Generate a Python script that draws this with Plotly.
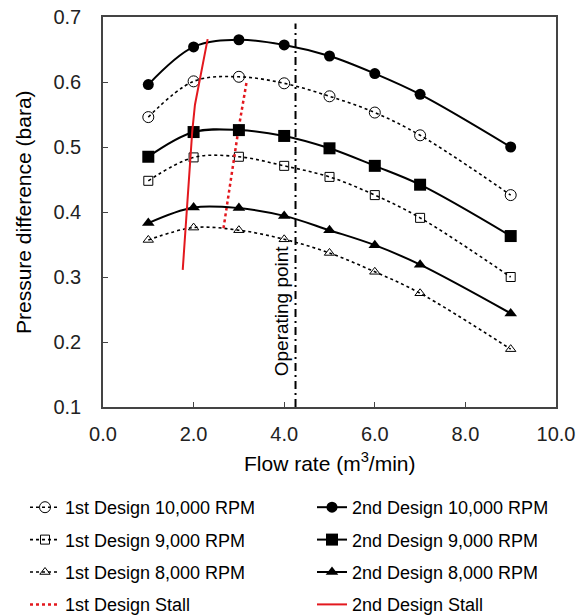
import plotly.graph_objects as go

# ---- data ----
flow = [1, 2, 3, 4, 5, 6, 7, 9]

d1_10000 = [0.546, 0.601, 0.608, 0.598, 0.578, 0.553, 0.518, 0.426]
d2_10000 = [0.596, 0.654, 0.665, 0.657, 0.640, 0.613, 0.581, 0.500]
d1_9000 = [0.448, 0.484, 0.485, 0.471, 0.454, 0.426, 0.391, 0.300]
d2_9000 = [0.485, 0.523, 0.526, 0.517, 0.498, 0.471, 0.442, 0.363]
d1_8000 = [0.357, 0.376, 0.372, 0.358, 0.337, 0.308, 0.275, 0.189]
d2_8000 = [0.383, 0.407, 0.406, 0.394, 0.372, 0.349, 0.319, 0.244]

stall1_x = [2.66, 2.99, 3.17]
stall1_y = [0.375, 0.527, 0.600]
stall2_x = [1.76, 1.97, 2.03, 2.13, 2.31]
stall2_y = [0.311, 0.524, 0.565, 0.600, 0.666]

operating_x = [4.25, 4.25]
operating_y = [0.10, 0.69]

x_ticks = [0, 2, 4, 6, 8, 10]
y_ticks = [0.1, 0.2, 0.3, 0.4, 0.5, 0.6, 0.7]

FONT = "Liberation Sans, Arial, sans-serif"
RED = "#e3181e"

# the page has an 8px body margin: figure is sized to fill the rest
W, H = 577, 608

fig = go.Figure()

def first(name, y, symbol, size, legend):
    fig.add_trace(go.Scatter(
        x=flow, y=y, name=name, mode="lines+markers",
        line=dict(color="black", width=1.6, dash="dot", shape="spline"),
        marker=dict(symbol=symbol, size=size, color="black",
                    line=dict(color="black", width=1)),
        legend=legend, legendgroup=name))

def second(name, y, symbol, size, legend):
    fig.add_trace(go.Scatter(
        x=flow, y=y, name=name, mode="lines+markers",
        line=dict(color="black", width=2, shape="spline"),
        marker=dict(symbol=symbol, size=size, color="black"),
        legend=legend, legendgroup=name))

first("1st Design 10,000 RPM", d1_10000, "circle-open", 11, "legend")
first("1st Design 9,000 RPM", d1_9000, "square-open", 9, "legend")
first("1st Design 8,000 RPM", d1_8000, "triangle-up-open", 9, "legend")
fig.add_trace(go.Scatter(x=stall1_x, y=stall1_y, name="1st Design Stall",
                         mode="lines", line=dict(color=RED, width=2.5, dash="dot"),
                         legend="legend", legendgroup="s1"))

second("2nd Design 10,000 RPM", d2_10000, "circle", 11, "legend2")
second("2nd Design 9,000 RPM", d2_9000, "square", 12, "legend2")
second("2nd Design 8,000 RPM", d2_8000, "triangle-up", 11, "legend2")
fig.add_trace(go.Scatter(x=stall2_x, y=stall2_y, name="2nd Design Stall",
                         mode="lines", line=dict(color=RED, width=2),
                         legend="legend2", legendgroup="s2"))

fig.add_trace(go.Scatter(x=operating_x, y=operating_y, mode="lines",
                         line=dict(color="black", width=2, dash="8px,4px,2px,4px"),
                         showlegend=False, hoverinfo="skip"))

fig.add_annotation(x=3.94, y=0.248, xref="x", yref="y", text="Operating point",
                   textangle=-90, showarrow=False,
                   font=dict(family=FONT, size=19, color="black"))

# axis titles
fig.add_annotation(x=0.5, y=0, xref="paper", yref="paper", yshift=-55,
                   xanchor="center", yanchor="middle", showarrow=False,
                   text="Flow rate (m<sup>3</sup>/min)",
                   font=dict(family=FONT, size=21, color="black"))
fig.add_annotation(x=0, y=0.5, xref="paper", yref="paper", xshift=-80,
                   xanchor="center", yanchor="middle", showarrow=False,
                   textangle=-90, text="Pressure difference (bara)",
                   font=dict(family=FONT, size=21, color="black"))

axis_common = dict(showgrid=False, zeroline=False, showline=True, mirror=True,
                   linecolor="#444", linewidth=1.5, ticks="inside", ticklen=5,
                   tickcolor="#444", ticklabeloverflow="allow",
                   tickfont=dict(family=FONT, size=20, color="#222"))

fig.update_xaxes(range=[0, 10], tickvals=x_ticks, tickformat=".1f",
                 ticklabelstandoff=8, **axis_common)
fig.update_yaxes(range=[0.1, 0.7], tickvals=y_ticks, tickformat=".1f",
                 ticklabelstandoff=16, **axis_common)

legend_common = dict(font=dict(family=FONT, size=18, color="black"),
                     xref="container", yref="container", yanchor="top",
                     xanchor="left", orientation="v", tracegroupgap=6,
                     bgcolor="rgba(0,0,0,0)", itemclick=False, itemdoubleclick=False)

fig.update_layout(
    width=W, height=H,
    margin=dict(l=95, r=29, t=9, b=209, autoexpand=False),
    plot_bgcolor="white", paper_bgcolor="white",
    font=dict(family=FONT),
    legend=dict(x=17 / W, y=1 - 481 / H, **legend_common),
    legend2=dict(x=304 / W, y=1 - 481 / H, **legend_common),
)

fig.write_html("out.html")
